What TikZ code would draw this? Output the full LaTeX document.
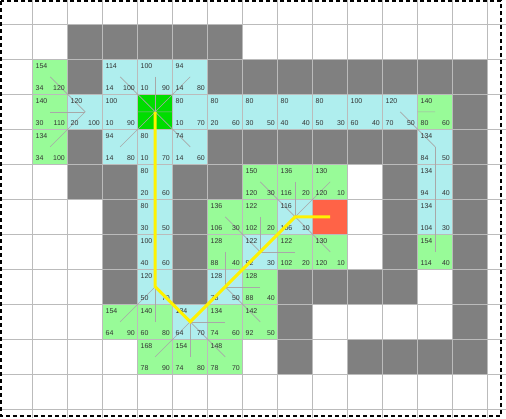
\documentclass[tikz,border=0pt]{standalone}
\usepackage{fontspec}
\setmainfont{Liberation Sans}
\usetikzlibrary{calc}
\definecolor{opencol}{HTML}{98FB98}
\definecolor{closedcol}{HTML}{AFEEEE}
\definecolor{startcol}{HTML}{00DD00}
\definecolor{endcol}{HTML}{FF6347}
\definecolor{wallcol}{HTML}{808080}
\definecolor{gridcol}{HTML}{BBBBBB}
\definecolor{ptrcol}{HTML}{A8A8A8}
\definecolor{txtcol}{HTML}{333333}
\tikzset{
  numtxt/.style={inner sep=0pt, font=\fontsize{7}{8}\selectfont, text=txtcol},
  gridline/.style={draw=gridcol, line width=1pt},
  ptrline/.style={draw=ptrcol, line width=0.6pt},
  pathline/.style={draw=yellow, line width=3pt},
  frameline/.style={draw=black, line width=1.5pt, dash pattern=on 4pt off 3pt}
}
\newcommand\cellbox[3]{\fill[#3] ({-2.3+35*#1},{-10.7+35*#2}) rectangle ++(35,35);}
\newcommand\cellnums[5]{%
  \node[numtxt,anchor=base west] (f-#1-#2) at ({-2.3+35*#1+2.8},{-10.7+35*#2+9.4}) {#3};
  \node[numtxt,anchor=base west] (g-#1-#2) at ({-2.3+35*#1+2.8},{-10.7+35*#2+30.8}) {#4};
  \node[numtxt,anchor=base east] (h-#1-#2) at ({-2.3+35*#1+32.3},{-10.7+35*#2+30.8}) {#5};}
\newcommand\ptr[2]{\draw[ptrline] (c-#1) -- (c-#2);}
\newcommand\halfptr[2]{\draw[ptrline] (c-#1) -- ($(c-#1)!0.5!(c-#2)$);}
\begin{document}
\begin{tikzpicture}[x=1pt,y=-1pt]
\useasboundingbox (0,0) rectangle (506,418);
\fill[white] (0,0) rectangle (506,418);
\foreach \i in {0,...,14}{\foreach \j in {0,...,12}{
  \coordinate (c-\i-\j) at ({-2.3+35*\i+17.5},{-10.7+35*\j+17.5});}}
% walls
\foreach \i/\j in {2/1,3/1,4/1,5/1,6/1,
  2/2,6/2,7/2,8/2,9/2,10/2,11/2,12/2,13/2,
  13/3,
  2/4,6/4,7/4,8/4,9/4,10/4,11/4,13/4,
  2/5,3/5,5/5,6/5,11/5,13/5,
  3/6,5/6,11/6,13/6,
  3/7,5/7,11/7,13/7,
  3/8,5/8,8/8,9/8,10/8,11/8,13/8,
  8/9,13/9,
  8/10,10/10,11/10,12/10,13/10}{\cellbox{\i}{\j}{wallcol}}
% open cells
\foreach \i/\j in {1/2,1/3,12/3,1/4,7/5,8/5,9/5,6/6,7/6,6/7,8/7,9/7,12/7,7/8,
  3/9,4/9,6/9,7/9,4/10,5/10,6/10}{\cellbox{\i}{\j}{opencol}}
% closed cells
\foreach \i/\j in {3/2,4/2,5/2,2/3,3/3,5/3,6/3,7/3,8/3,9/3,10/3,11/3,
  3/4,4/4,5/4,12/4,4/5,12/5,4/6,8/6,12/6,4/7,7/7,4/8,6/8,5/9}{\cellbox{\i}{\j}{closedcol}}
\cellbox{4}{3}{startcol}
\cellbox{9}{6}{endcol}
% grid
\foreach \k in {0,...,13}{\draw[gridline] ({32.7+35*\k},0) -- ++(0,418);}
\foreach \k in {0,...,11}{\draw[gridline] (0,{24.3+35*\k}) -- ++(506,0);}
% parent pointers
\ptr{1-2}{2-3}\ptr{3-2}{4-3}\ptr{4-2}{4-3}\ptr{5-2}{4-3}
\ptr{1-3}{2-3}\halfptr{12-3}{11-3}
\halfptr{4-3}{3-3}\halfptr{4-3}{5-3}
\ptr{1-4}{2-3}\ptr{3-4}{4-3}\ptr{4-4}{4-3}\ptr{5-4}{4-3}\ptr{12-4}{11-3}
\ptr{4-5}{4-4}\ptr{7-5}{8-6}\ptr{8-5}{8-6}\ptr{9-5}{8-6}\ptr{12-5}{12-4}
\ptr{4-6}{4-5}\ptr{6-6}{7-7}\ptr{7-6}{7-7}\ptr{8-6}{7-7}\ptr{12-6}{12-5}
\ptr{4-7}{4-6}\ptr{6-7}{6-8}\ptr{7-7}{6-8}\ptr{8-7}{7-7}\ptr{9-7}{8-6}\ptr{12-7}{12-6}
\ptr{4-8}{4-7}\ptr{6-8}{5-9}\ptr{7-8}{6-8}
\ptr{3-9}{4-8}\ptr{4-9}{4-8}\ptr{5-9}{4-8}\ptr{6-9}{5-9}\ptr{7-9}{6-8}
\ptr{4-10}{5-9}\ptr{5-10}{5-9}\ptr{6-10}{5-9}
% numbers
\cellnums{1}{2}{154}{34}{120}\cellnums{3}{2}{114}{14}{100}\cellnums{4}{2}{100}{10}{90}\cellnums{5}{2}{94}{14}{80}
\cellnums{1}{3}{140}{30}{110}\cellnums{2}{3}{120}{20}{100}\cellnums{3}{3}{100}{10}{90}
\cellnums{5}{3}{80}{10}{70}\cellnums{6}{3}{80}{20}{60}\cellnums{7}{3}{80}{30}{50}\cellnums{8}{3}{80}{40}{40}
\cellnums{9}{3}{80}{50}{30}\cellnums{10}{3}{100}{60}{40}\cellnums{11}{3}{120}{70}{50}\cellnums{12}{3}{140}{80}{60}
\cellnums{1}{4}{134}{34}{100}\cellnums{3}{4}{94}{14}{80}\cellnums{4}{4}{80}{10}{70}\cellnums{5}{4}{74}{14}{60}\cellnums{12}{4}{134}{84}{50}
\cellnums{4}{5}{80}{20}{60}\cellnums{7}{5}{150}{120}{30}\cellnums{8}{5}{136}{116}{20}\cellnums{9}{5}{130}{120}{10}\cellnums{12}{5}{134}{94}{40}
\cellnums{4}{6}{80}{30}{50}\cellnums{6}{6}{136}{106}{30}\cellnums{7}{6}{122}{102}{20}\cellnums{8}{6}{116}{106}{10}\cellnums{12}{6}{134}{104}{30}
\cellnums{4}{7}{100}{40}{60}\cellnums{6}{7}{128}{88}{40}\cellnums{7}{7}{122}{92}{30}\cellnums{8}{7}{122}{102}{20}\cellnums{9}{7}{130}{120}{10}\cellnums{12}{7}{154}{114}{40}
\cellnums{4}{8}{120}{50}{70}\cellnums{6}{8}{128}{78}{50}\cellnums{7}{8}{128}{88}{40}
\cellnums{3}{9}{154}{64}{90}\cellnums{4}{9}{140}{60}{80}\cellnums{5}{9}{134}{64}{70}\cellnums{6}{9}{134}{74}{60}\cellnums{7}{9}{142}{92}{50}
\cellnums{4}{10}{168}{78}{90}\cellnums{5}{10}{154}{74}{80}\cellnums{6}{10}{148}{78}{70}
% path
\draw[pathline] (c-4-3) -- (c-4-8) -- (c-5-9) -- (c-6-8) -- (c-7-7) -- (c-8-6) -- (c-9-6);
% frame
\draw[frameline] (1,1) rectangle (501,416);
\end{tikzpicture}
\end{document}
